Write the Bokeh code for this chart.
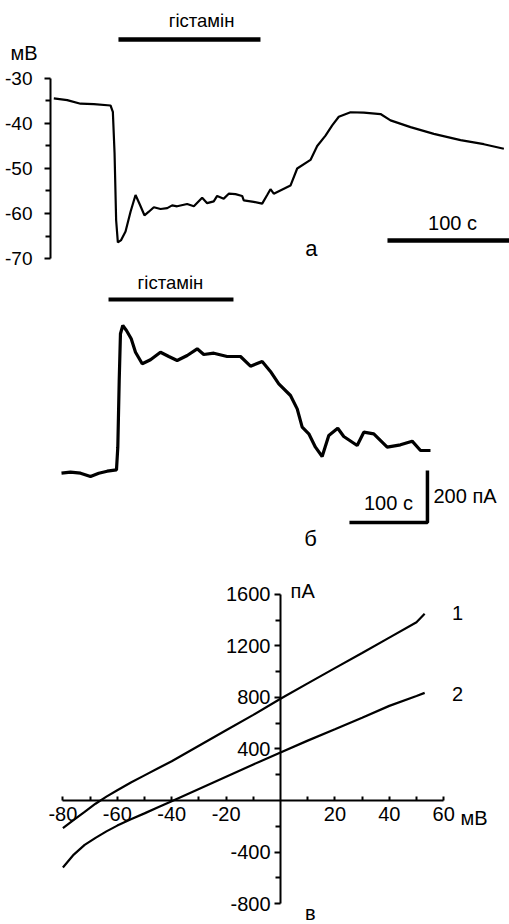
from bokeh.plotting import figure
from bokeh.models import LinearAxis, FixedTicker, Label, Range1d
from bokeh.layouts import column
from bokeh.embed import file_html
from bokeh.resources import INLINE

FONT = "Liberation Sans"

# ---------- Panel а: membrane potential (mV) vs time (s) ----------
t_a = [0, 11.0, 21.9, 32.8, 46.5, 48.4, 49.8, 51.1, 52.5, 55.2, 58.8, 62.9, 67.0,
       70.5, 74.3, 77.9, 82.0, 87.5, 93.0, 97.0, 101.1, 109.3, 114.8, 121.6, 125.7,
       131.1, 133.9, 139.3, 143.4, 148.9, 154.4, 155.7, 163.9, 170.8, 174.9, 177.6,
       180.3, 194.0, 199.5, 210.4, 215.9, 222.7, 228.2, 233.6, 243.2, 254.1, 267.8,
       276.0, 292.4, 311.5, 333.4, 352.5, 368.9]
v_a = [-34.4, -34.8, -35.6, -35.7, -36.0, -37.4, -46.6, -61.5, -66.4, -65.9, -64.0,
       -59.6, -55.9, -58.0, -60.4, -59.6, -58.6, -59.0, -58.8, -58.2, -58.4, -57.9,
       -58.4, -56.5, -57.7, -57.3, -56.1, -56.7, -55.6, -55.7, -56.1, -57.1, -57.4,
       -57.8, -55.9, -54.6, -55.6, -53.8, -50.0, -48.1, -45.0, -42.7, -40.4, -38.5,
       -37.5, -37.6, -37.9, -39.3, -40.8, -42.3, -43.7, -44.6, -45.6]
ticks_a = [-70, -60, -50, -40, -30]
minor_a = [-65, -55, -45, -35]

# ---------- Panel б: current (pA) vs time (s) ----------
t_b = [0, 11.5, 24.4, 37.2, 47.8, 58.6, 70.5, 72.2, 74.0, 75.6, 78.6, 83.3, 89.4,
       94.9, 103.5, 114.1, 126.9, 137.6, 148.3, 161.2, 174.0, 182.4, 195.3, 212.4,
       229.5, 242.3, 257.3, 267.9, 278.6, 293.6, 302.2, 308.6, 317.1, 325.6, 334.2,
       342.7, 354.2, 361.9, 379.1, 387.6, 400.4, 417.6, 434.6, 449.6, 460.3, 473.1]
i_b = [-6.5, -2.7, -6.5, -19.2, -6.5, 1.2, 6.5, 93.5, 350, 529.6, 561.5, 542.3, 510.4,
       458.8, 414.2, 429.6, 458.8, 442.3, 426.9, 446.2, 471.9, 450, 455, 442.3,
       442.3, 405, 423, 385, 337, 292.3, 241, 170.5, 144.9, 93.6, 57.7,
       138.5, 166.6, 134.6, 100, 151.3, 144.9, 93.6, 102.6, 116.6, 80.8, 80.8]

# ---------- Panel в: I-V curves ----------
v_iv = [-80, -76, -72, -68, -64, -60, -55, -50, -45, -40, -30, -20, -10, 0, 10, 20,
        30, 40, 50, 53]
i_iv1 = [-215, -150, -88, -25, 30, 80, 140, 195, 250, 305, 425, 545, 665, 790, 910,
         1028, 1145, 1265, 1385, 1450]
i_iv2 = [-520, -420, -345, -290, -240, -195, -145, -100, -52, -5, 90, 185, 280, 372,
         465, 553, 643, 735, 812, 836]
ticks_x_c = [-80, -60, -40, -20, 20, 40, 60]
minor_x_c = [-70, -50, -30, -10, 10, 30, 50]
ticks_y_c = [-800, -400, 400, 800, 1200, 1600]
minor_y_c = [-600, -200, 200, 600, 1000, 1400]

W = 509


def base_fig(h, xr, yr):
    p = figure(width=W, height=h, x_range=Range1d(*xr), y_range=Range1d(*yr),
               x_axis_type=None, y_axis_type=None, toolbar_location=None,
               output_backend="svg", min_border=0)
    p.outline_line_color = None
    p.background_fill_color = "white"
    p.border_fill_color = "white"
    return p


def style_axis(ax, size):
    ax.axis_line_color = "black"
    ax.axis_line_width = 2
    ax.major_tick_line_color = "black"
    ax.major_tick_line_width = 2
    ax.minor_tick_line_color = "black"
    ax.minor_tick_line_width = 2
    ax.major_label_text_font = FONT
    ax.major_label_text_font_size = size
    ax.major_label_text_color = "black"


def lab(p, x, y, text, size="20px", align="center", baseline="middle"):
    p.add_layout(Label(x=x, y=y, text=text, text_font=FONT, text_font_size=size,
                       text_color="black", text_align=align, text_baseline=baseline))


# ---------- Panel а ----------
pa = base_fig(272, (-43.69, 373.52), (-73.111, -12.667))
ya = LinearAxis(fixed_location=-2.7, bounds=(-70, -30),
                ticker=FixedTicker(ticks=ticks_a, minor_ticks=minor_a))
style_axis(ya, "19px")
ya.major_tick_out = 6
ya.major_tick_in = 0
ya.minor_tick_out = 5
ya.minor_tick_in = 0
ya.major_label_standoff = 12
ya.major_label_overrides = {v: str(v) for v in ticks_a}
pa.add_layout(ya, "left")
pa.line(t_a, v_a, line_color="black", line_width=2.2)
pa.line([53.0, 169.4], [-21.33, -21.33], line_color="black", line_width=4.5)
lab(pa, 121.1, -17.1, "гістамін", size="18.5px")
lab(pa, -35.5, -24.44, "мВ", align="left")
pa.line([273.5, 373.5], [-66.0, -66.0], line_color="black", line_width=4.5)
lab(pa, 326.8, -62.2, "100 с")
lab(pa, 211.2, -67.8, "а", size="22px")

# ---------- Panel б ----------
pb = base_fig(280, (-78.2, 574.4), (-311.5, 765.4))
pb.line(t_b, i_b, line_color="black", line_width=3.2)
pb.line([60.3, 220.5], [661.5, 661.5], line_color="black", line_width=3.8)
lab(pb, 139.7, 727, "гістамін", size="18.5px")
pb.line([369.2, 469.2, 469.2], [-196.2, -196.2, 3.8], line_color="black", line_width=3.5)
lab(pb, 419.2, -119.2, "100 с")
lab(pb, 476.9, -92.3, "200 пА", align="left")
lab(pb, 319.2, -257.7, "б", size="22px")

# ---------- Panel в ----------
pc = base_fig(372, (-102.94, 84.19), (-963.1, 1926.2))
yc = LinearAxis(fixed_location=0, bounds=(-800, 1600),
                ticker=FixedTicker(ticks=ticks_y_c, minor_ticks=minor_y_c))
style_axis(yc, "20px")
yc.major_tick_out = 6
yc.major_tick_in = 0
yc.minor_tick_out = 5
yc.minor_tick_in = 0
yc.major_label_standoff = 4
yc.major_label_overrides = {v: str(v) for v in ticks_y_c}
pc.add_layout(yc, "left")
xc = LinearAxis(fixed_location=0, bounds=(-80, 60),
                ticker=FixedTicker(ticks=ticks_x_c, minor_ticks=minor_x_c))
style_axis(xc, "20px")
xc.major_tick_out = 0
xc.major_tick_in = 4
xc.minor_tick_out = 0
xc.minor_tick_in = 4
xc.major_label_standoff = 6
xc.major_label_overrides = {v: str(v) for v in ticks_x_c}
pc.add_layout(xc, "below")
pc.line(v_iv, i_iv1, line_color="black", line_width=2.2)
pc.line(v_iv, i_iv2, line_color="black", line_width=2.2)
lab(pc, 3.7, 1631, "пА", size="20px", align="left")
lab(pc, 66.2, -139.8, "мВ", size="20px", align="left")
lab(pc, 65.1, 1460, "1", size="20px")
lab(pc, 65.1, 831, "2", size="20px")
lab(pc, 11.0, -872, "в", size="20px")

layout = column(pa, pb, pc, spacing=0)
open("out.html", "w").write(file_html(layout, INLINE))
